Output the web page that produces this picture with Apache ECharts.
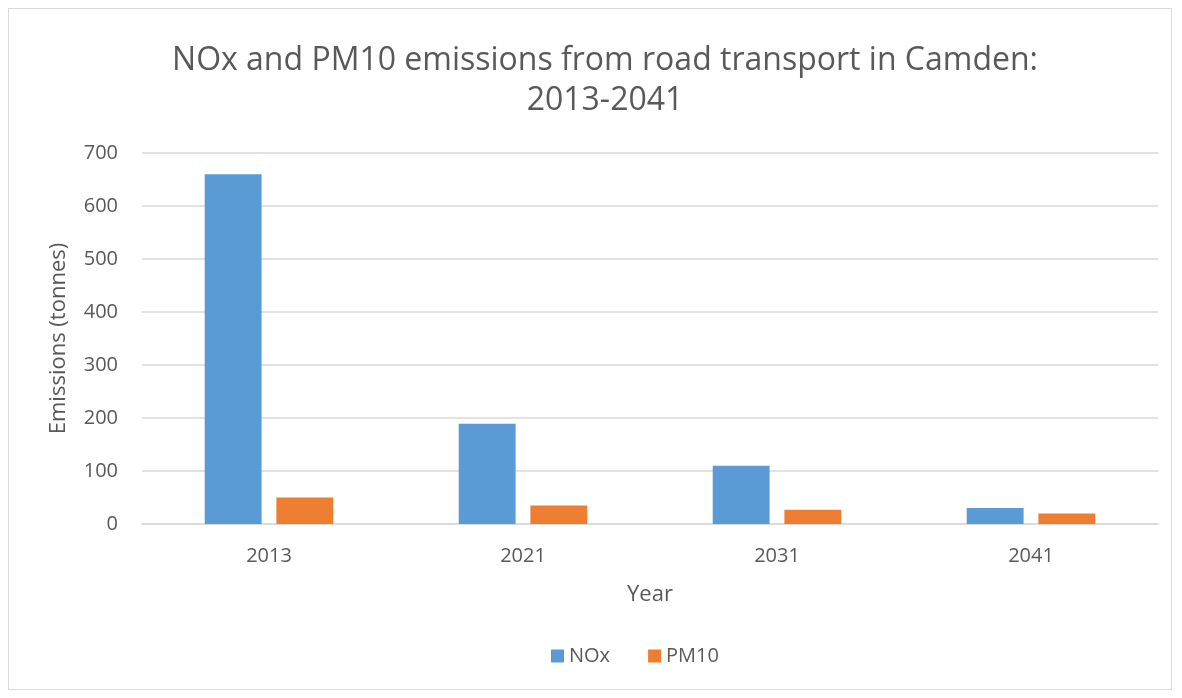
<!DOCTYPE html>
<html><head><meta charset="utf-8">
<script src="https://cdn.jsdelivr.net/npm/echarts@6/dist/echarts.min.js"></script>
<style>html,body{margin:0;padding:0;background:#fff}#c{width:1182px;height:698px}
#frame{position:absolute;left:8px;top:8px;width:1164px;height:682px;border:1px solid #d9d9d9;box-sizing:border-box;pointer-events:none}</style>
</head><body><div id="c"></div><div id="frame"></div>
<script>
const categories = ['2013', '2021', '2031', '2041'];
const noxValues = [660, 189, 110, 30];
const pm10Values = [50, 35, 27, 20];
const yTicks = [0, 100, 200, 300, 400, 500, 600, 700];
const titleText = 'NOx and PM10 emissions from road transport in Camden:\n2013-2041';

const chart = echarts.init(document.getElementById('c'));
const txt = '#595959';
const ff = '"Open Sans", Calibri, "Liberation Sans", sans-serif';
chart.setOption({
  animation: false,
  textStyle: {fontFamily: ff},
  title: {text: titleText, left: 600, textAlign: 'center', top: 36,
    textStyle: {fontSize: 32, fontWeight: 'normal', color: txt, lineHeight: 40, fontFamily: ff}},
  grid: {left: 142, right: 24, top: 153, bottom: 174},
  legend: {data: ['NOx', 'PM10'], left: 546, top: 641, itemWidth: 13, itemHeight: 13,
    itemGap: 38, icon: 'rect', textStyle: {fontSize: 20, color: txt, fontFamily: ff}},
  xAxis: {type: 'category', data: categories, name: 'Year', nameLocation: 'middle', nameGap: 60,
    nameTextStyle: {fontSize: 22, color: txt, fontFamily: ff},
    axisLine: {lineStyle: {color: '#d9d9d9', width: 1.5}}, axisTick: {show: false},
    axisLabel: {fontSize: 20, color: txt, margin: 22, fontFamily: ff}},
  yAxis: {type: 'value', min: yTicks[0], max: yTicks[yTicks.length - 1], interval: 100,
    name: 'Emissions (tonnes)', nameLocation: 'middle', nameGap: 72,
    nameTextStyle: {fontSize: 22, color: txt, fontFamily: ff},
    axisLine: {show: false}, axisTick: {show: false},
    axisLabel: {fontSize: 20, color: txt, margin: 24, fontFamily: ff},
    splitLine: {lineStyle: {color: '#d9d9d9', width: 1.5}}},
  series: [
    {name: 'NOx', type: 'bar', data: noxValues, barWidth: '22.4%', barGap: '26%',
     itemStyle: {color: '#5b9bd5'}},
    {name: 'PM10', type: 'bar', data: pm10Values, barWidth: '22.4%',
     itemStyle: {color: '#ed7d31'}}
  ]
});
</script></body></html>
